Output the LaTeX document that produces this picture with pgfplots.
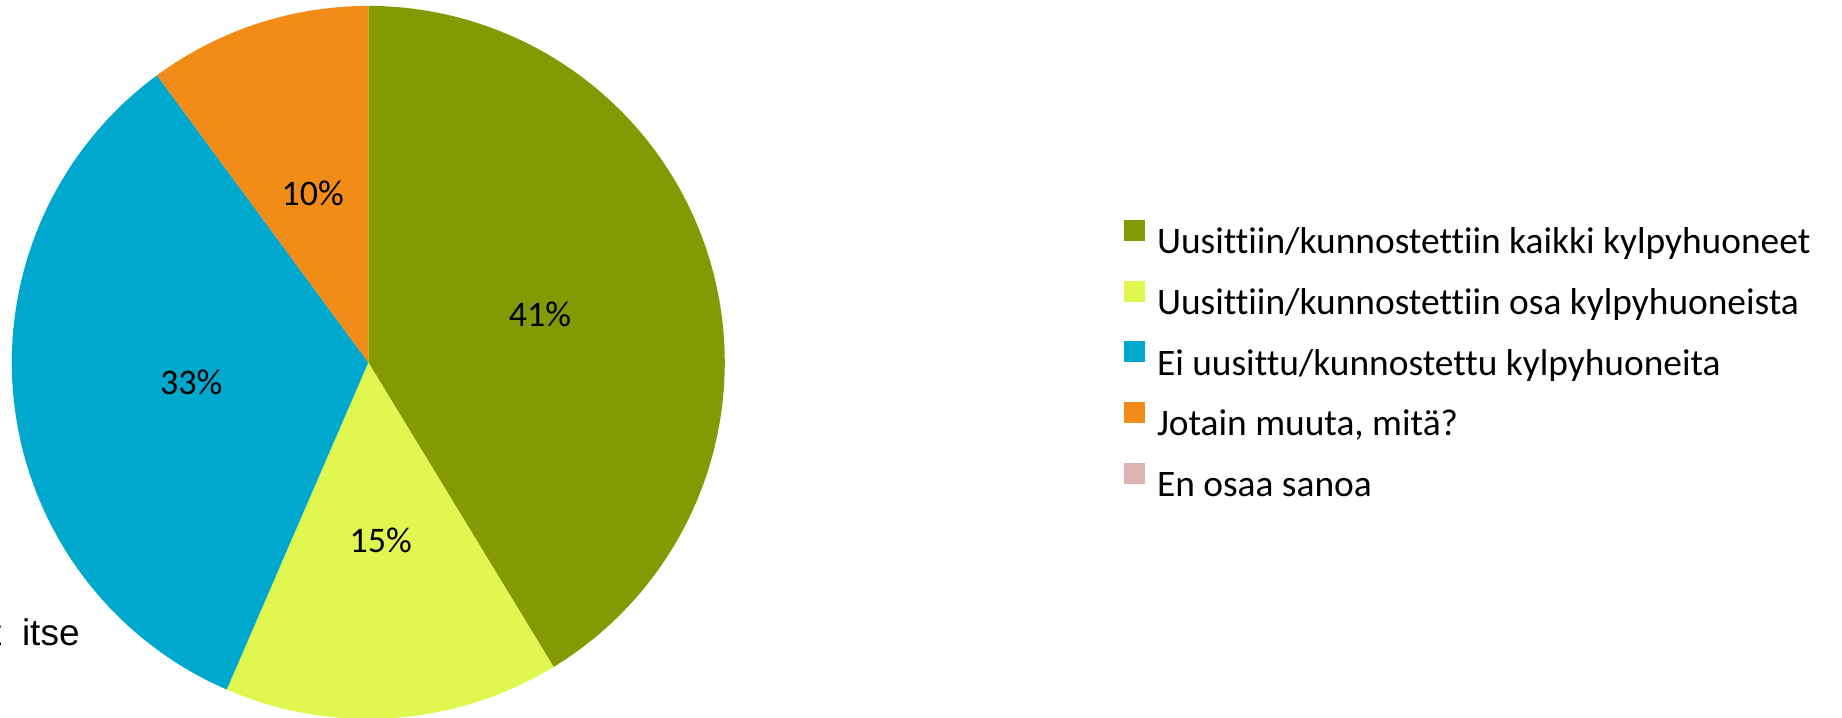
\documentclass[border=0pt]{standalone}
\usepackage{pgfplots}
\pgfplotsset{compat=1.18}
\usepackage{fontspec}
\setmainfont{Carlito}[Ligatures=NoCommon]
\newfontfamily\arialf{Liberation Sans}
\definecolor{cgreen}{RGB}{132,154,4}
\definecolor{cyellow}{RGB}{223,247,79}
\definecolor{cblue}{RGB}{0,168,206}
\definecolor{corange}{RGB}{242,140,25}
\definecolor{cpink}{RGB}{221,180,180}
\begin{document}
\begin{tikzpicture}
\path[use as bounding box] (0,0) rectangle (921bp,359bp);
% shares (percent)
\def\va{41.3}\def\vb{15.2}\def\vc{33.4}\def\vd{10.1}\def\ve{0}
\pgfmathsetmacro\aA{90}
\pgfmathsetmacro\aB{\aA-3.6*\va}
\pgfmathsetmacro\aC{\aB-3.6*\vb}
\pgfmathsetmacro\aD{\aC-3.6*\vc}
\pgfmathsetmacro\aE{\aD-3.6*\vd}
\begin{axis}[
  at={(5.9bp,-0.45bp)}, anchor=south west,
  scale only axis, width=356.5bp, height=356.5bp,
  xmin=-1, xmax=1, ymin=-1, ymax=1,
  hide axis, clip=false,
  legend cell align=left,
  legend style={at={(1.5599,0.7115)}, anchor=north west, draw=none, fill=none,
    inner sep=0pt, outer sep=0pt, font=\fontsize{18.7bp}{21bp}\selectfont,
    nodes={inner sep=0pt, text height=21bp, text depth=9.4bp},
    column sep=6bp, row sep=0pt},
  legend image code/.code={\fill[#1] (0bp,0.55bp) rectangle (10.5bp,11.05bp);},
]
\addplot[fill=cgreen, draw=none, domain=\aB:\aA, samples=120] ({cos(x)},{sin(x)}) -- (axis cs:0,0) -- cycle;
\addplot[fill=cyellow, draw=none, domain=\aC:\aB, samples=60] ({cos(x)},{sin(x)}) -- (axis cs:0,0) -- cycle;
\addplot[fill=cblue, draw=none, domain=\aD:\aC, samples=120] ({cos(x)},{sin(x)}) -- (axis cs:0,0) -- cycle;
\addplot[fill=corange, draw=none, domain=\aE:\aD, samples=40] ({cos(x)},{sin(x)}) -- (axis cs:0,0) -- cycle;
\addlegendimage{fill=cpink, draw=none}
\legend{Uusittiin/kunnostettiin kaikki kylpyhuoneet,
        Uusittiin/kunnostettiin osa kylpyhuoneista,
        Ei uusittu/kunnostettu kylpyhuoneita,
        {Jotain muuta, mitä?},
        En osaa sanoa}
\begin{scope}[every node/.style={font=\fontsize{18bp}{21bp}\selectfont, inner sep=0pt}]
\node at (axis cs:{0.5*cos((\aA+\aB)/2)},{0.5*sin((\aA+\aB)/2)}) {41\%};
\node at (axis cs:{0.5*cos((\aB+\aC)/2)},{0.5*sin((\aB+\aC)/2)}) {15\%};
\node at (axis cs:{0.5*cos((\aC+\aD)/2)},{0.5*sin((\aC+\aD)/2)}) {33\%};
\node at (axis cs:{0.5*cos((\aD+\aE)/2)},{0.5*sin((\aD+\aE)/2)}) {10\%};
\end{scope}
\end{axis}
\node[anchor=base east, inner sep=0pt, font=\arialf\fontsize{18.5bp}{21bp}\selectfont] at (40bp,36.5bp) {t\ \ itse};
\end{tikzpicture}
\end{document}
